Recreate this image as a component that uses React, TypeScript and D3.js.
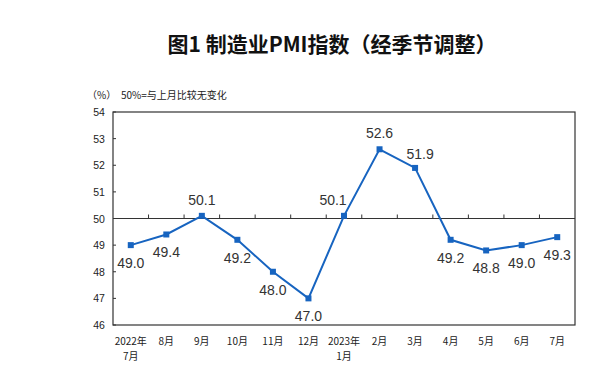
import React from "react";
import * as d3 from "d3";

const categories = ["2022年\n7月", "8月", "9月", "10月", "11月", "12月", "2023年\n1月", "2月", "3月", "4月", "5月", "6月", "7月"];
const values = [49.0, 49.4, 50.1, 49.2, 48.0, 47.0, 50.1, 52.6, 51.9, 49.2, 48.8, 49.0, 49.3];
const labelPos = ["below", "below", "above", "below", "below", "below", "aboveLeft", "above", "aboveRight", "below", "below", "below", "below"];
const yTicks = [46, 47, 48, 49, 50, 51, 52, 53, 54];

export default function App() {
  const W = 604, H = 384;
  const left = 113, right = 575, top = 112, bottom = 325;
  const x = d3.scaleBand<string>().domain(categories).range([left, right]);
  const y = d3.scaleLinear().domain([46, 54]).range([bottom, top]);
  const cx = (i: number) => (x(categories[i]) as number) + x.bandwidth() / 2;
  const line = d3.line<number>().x((_, i) => cx(i)).y((d) => y(d));
  const blue = "#1764c0";
  const axisColor = "#333";
  const font = "'Noto Sans CJK SC', sans-serif";
  return (
    <svg width={W} height={H} style={{ position: "absolute", left: 0, top: 0, background: "#fff" }}>
      <rect x={0} y={0} width={W} height={H} fill="#fff" />
      <text x={332} y={52} textAnchor="middle" fontFamily={font} fontWeight="bold" fontSize={21} fill="#111">
        图1 制造业PMI指数（经季节调整）
      </text>
      <text x={87} y={99} fontFamily={font} fontSize={10} fill="#222">（%）</text>
      <text x={121} y={99} fontFamily={font} fontSize={10} fill="#222">50%=与上月比较无变化</text>
      {/* frame */}
      <rect x={left} y={top} width={right - left} height={bottom - top} fill="none" stroke={axisColor} strokeWidth={1.2} />
      {/* y ticks */}
      {yTicks.map((t) => (
        <g key={t}>
          <line x1={left} x2={left + 3} y1={y(t)} y2={y(t)} stroke={axisColor} />
          <text x={99} y={y(t) + 4} textAnchor="middle" fontFamily="'Liberation Sans', Arial, sans-serif" fontSize={10.5} fill="#222">
            {t}
          </text>
        </g>
      ))}
      {/* 50 baseline */}
      <line x1={left} x2={right} y1={y(50)} y2={y(50)} stroke={axisColor} strokeWidth={1.2} />
      {categories.slice(1).map((c) => (
        <line key={c} x1={x(c) as number} x2={x(c) as number} y1={y(50)} y2={y(50) - 4} stroke={axisColor} />
      ))}
      {/* x labels */}
      {categories.map((c, i) => {
        const parts = c.split("\n");
        return (
          <text key={c} x={cx(i)} y={345} textAnchor="middle" fontFamily={font} fontSize={10} fill="#222">
            {parts.map((p, j) => (
              <tspan key={j} x={cx(i)} dy={j === 0 ? 0 : 15}>{p}</tspan>
            ))}
          </text>
        );
      })}
      {/* line */}
      <path d={line(values) as string} fill="none" stroke={blue} strokeWidth={2} />
      {values.map((v, i) => (
        <rect key={i} x={cx(i) - 3} y={y(v) - 3} width={6} height={6} fill={blue} />
      ))}
      {values.map((v, i) => {
        const pos = labelPos[i];
        let dx = 0, dy = 23;
        if (pos === "above") dy = -11;
        if (pos === "aboveLeft") { dx = -11; dy = -11; }
        if (pos === "aboveRight") { dx = 5; dy = -9; }
        return (
          <text key={"l" + i} x={cx(i) + dx} y={y(v) + dy} textAnchor="middle" fontFamily="'Liberation Sans', Arial, sans-serif" fontSize={14} fill="#333">
            {v.toFixed(1)}
          </text>
        );
      })}
    </svg>
  );
}
